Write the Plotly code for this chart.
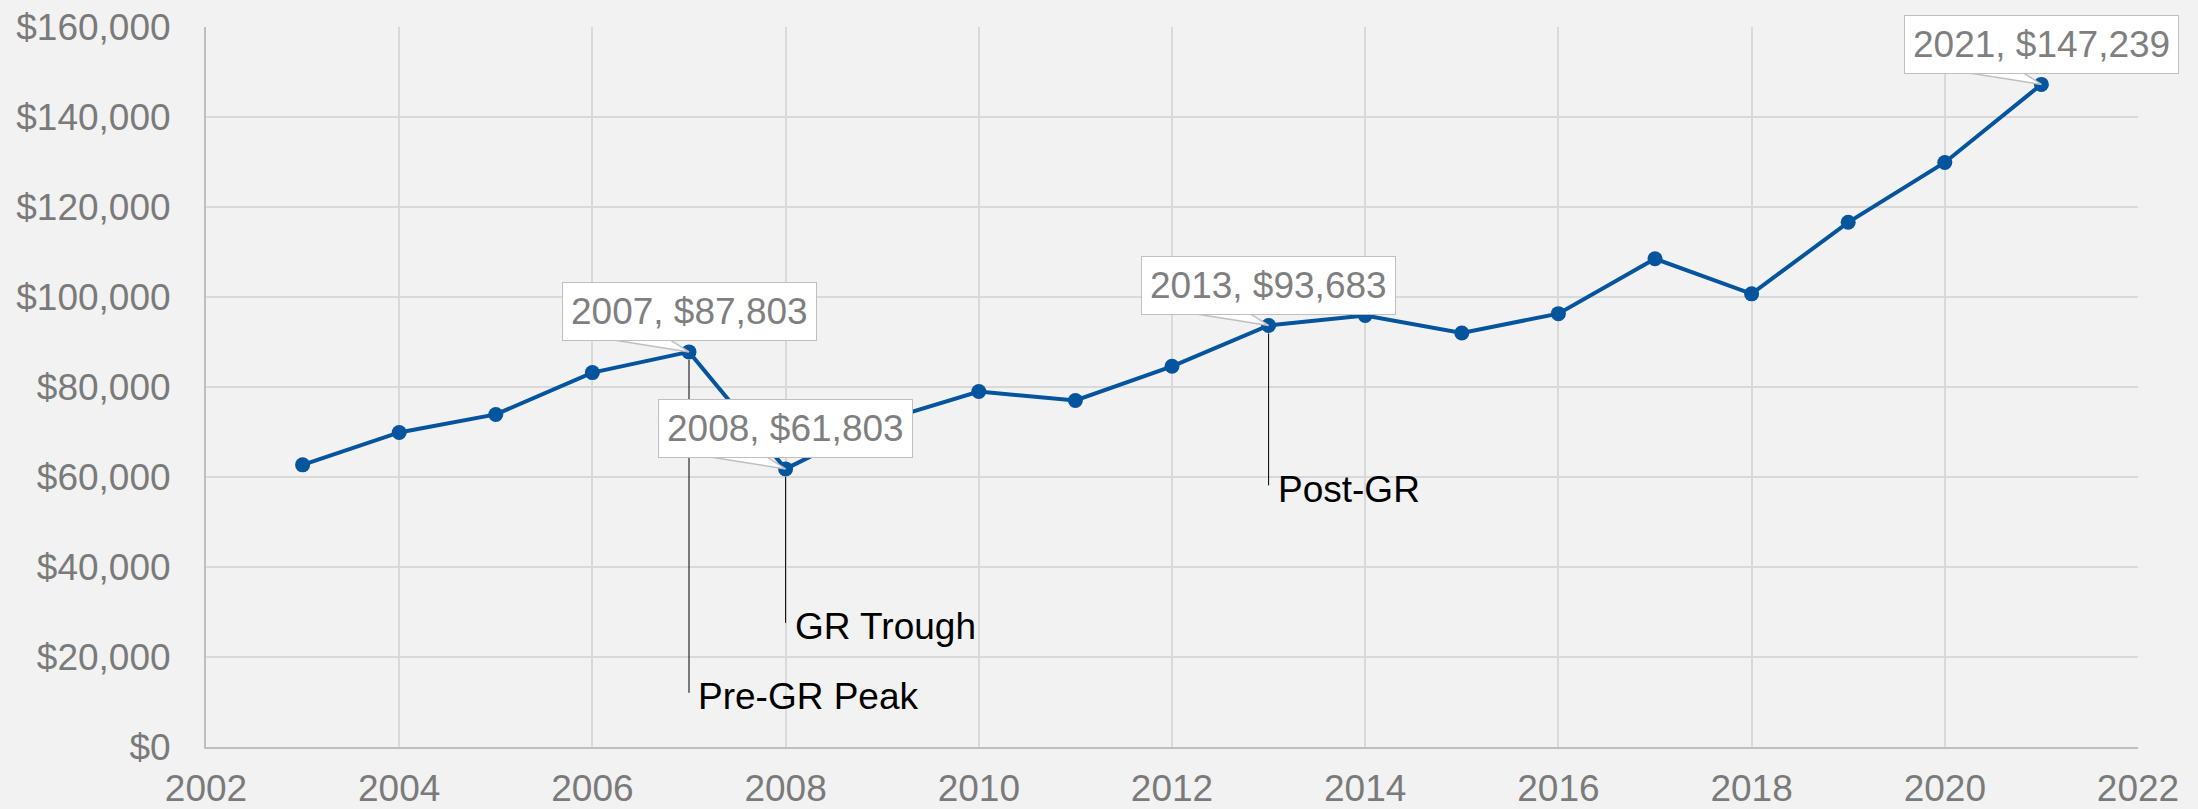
import plotly.graph_objects as go

# median household income
years = [2003, 2004, 2005, 2006, 2007, 2008, 2009, 2010, 2011, 2012,
         2013, 2014, 2015, 2016, 2017, 2018, 2019, 2020, 2021]
income = [62700, 69900, 73900, 83200, 87803, 61803, 72500, 79000, 77000, 84600,
          93683, 95900, 92000, 96300, 108500, 100700, 116600, 129900, 147239]

callout_years = [2007, 2008, 2013, 2021]
marker_years = [2007, 2008, 2013]
marker_labels = ["Pre-GR Peak", "GR Trough", "Post-GR"]

BLUE = "#05549e"
GRID = "#d9d9d9"
FONT = "Liberation Sans, Arial, sans-serif"

fig = go.Figure(go.Scatter(
    x=years, y=income, mode="lines+markers",
    line=dict(color=BLUE, width=4),
    marker=dict(size=15, color=BLUE, line=dict(width=0)),
    showlegend=False,
))

lookup = dict(zip(years, income))

# callout boxes above the highlighted points, with a small wedge pointer
for yr in callout_years:
    val = lookup[yr]
    fig.add_shape(
        type="path", xref="x", yref="y", xsizemode="pixel", ysizemode="pixel",
        xanchor=yr, yanchor=val, path="M 0 0 L -88 14 L -22 14 Z",
        fillcolor="white", line=dict(color="#bfbfbf", width=1.5), layer="above",
    )
    fig.add_annotation(
        x=yr, y=val, text=f"{yr}, ${val:,.0f}", showarrow=False,
        xanchor="center", yanchor="middle", yshift=40,
        font=dict(family=FONT, size=37, color="#7f7f7f"),
        bgcolor="white", bordercolor="#bfbfbf", borderwidth=1, borderpad=8,
    )

# vertical leader lines down to the period labels
drops = [345, 158, 164]
for yr, lab, d in zip(marker_years, marker_labels, drops):
    val = lookup[yr]
    fig.add_shape(
        type="line", xref="x", yref="y", xsizemode="pixel", ysizemode="pixel",
        xanchor=yr, yanchor=val, x0=0, x1=0, y0=-8, y1=-(d - 4),
        line=dict(color="black", width=1), layer="above",
    )
    fig.add_annotation(
        x=yr, y=val, text=lab, showarrow=False, xanchor="left", yanchor="middle",
        xshift=7, yshift=-d, font=dict(family=FONT, size=37, color="black"),
    )

axis_font = dict(family=FONT, size=37, color="#7a7a7a")
fig.update_xaxes(
    range=[2002, 2022], dtick=2, tick0=2002, showgrid=True, gridcolor=GRID, gridwidth=1.5,
    showline=True, linecolor="#bfbfbf", linewidth=2, zeroline=False, automargin=False,
    tickfont=axis_font, ticks="", ticklabelstandoff=8,
)
fig.update_yaxes(
    range=[0, 160000], dtick=20000, showgrid=True, gridcolor=GRID, gridwidth=1.5,
    showline=True, linecolor="#bfbfbf", linewidth=2, zeroline=False, automargin=False,
    tickprefix="$", tickformat=",", tickfont=axis_font, ticks="", ticklabelstandoff=26,
)
fig.update_layout(
    width=2198, height=809,
    margin=dict(l=206, r=60, t=27, b=62),
    paper_bgcolor="#f2f2f2", plot_bgcolor="#f2f2f2",
    font=dict(family=FONT),
)

fig.write_html("out.html", config={"displayModeBar": False},
               post_script="document.body.style.margin='0';")
